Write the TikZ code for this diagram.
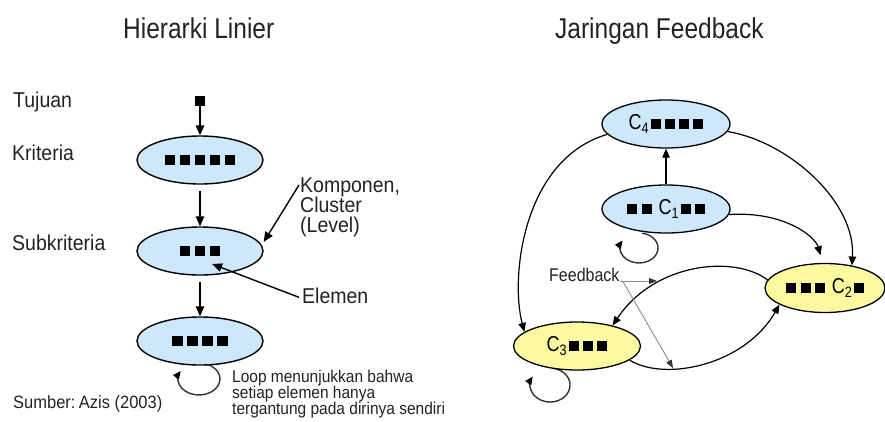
\documentclass[tikz,border=0pt]{standalone}
\usepackage{fontspec}
\setmainfont{Liberation Sans}
\usetikzlibrary{shapes.geometric,arrows.meta,calc}
\pgfdeclarelayer{background}
\pgfsetlayers{background,main}

\definecolor{clusterblue}{RGB}{204,232,250}
\definecolor{clusteryellow}{RGB}{252,249,160}
\definecolor{inkgray}{RGB}{35,35,35}

% vertically stretched text
\newcommand\vstretch[2][1.12]{\scalebox{1}[#1]{#2}}
% element squares (left hierarchy / right network)
\newcommand\sqL{\rule{10.5pt}{10.5pt}}
\newcommand\gL{\hspace{4.5pt}}
\newcommand\sqR{\rule[0.5pt]{10pt}{10pt}}
\newcommand\gR{\hspace{4.3pt}}

\begin{document}
\begin{tikzpicture}[x=1pt,y=1pt,
  every node/.style={inner sep=0pt, text=inkgray},
  title/.style={font=\fontsize{24.5}{29}\selectfont, anchor=base west},
  lbl/.style={font=\fontsize{19.5}{23}\selectfont, anchor=base west},
  note/.style={font=\fontsize{15.5}{18}\selectfont, anchor=base west},
  level/.style={ellipse, draw=black, line width=1.4pt, fill=clusterblue,
    minimum width=126pt, minimum height=48pt, text=black},
  cluster/.style={ellipse, draw=black, line width=1.3pt, minimum width=128pt,
    minimum height=48pt, font=\fontsize{18}{21}\selectfont, text=black},
  arr/.style={draw=black, line width=1.4pt, -{Triangle[length=10pt,width=8.5pt]}},
  carr/.style={draw=black, line width=1.2pt, -{Triangle[length=9pt,width=7.5pt]}},
  selfloop/.style={draw=black!80, line width=1.4pt, -{Triangle[length=8pt,width=7pt,color=black]}},
  fbarr/.style={draw=black!45, line width=0.9pt, -{Triangle[length=8pt,width=6pt,color=black!80]}},
]
\begin{pgfonlayer}{background}
\fill[white] (0,0) rectangle (885,-421);
\end{pgfonlayer}
\useasboundingbox (0,0) rectangle (885,-421);

% ---------- titles ----------
\node[title] (t1) at (123,-38) {\vstretch[1.17]{Hierarki Linier}};
\node[title] (t2) at (555,-38) {\vstretch[1.17]{Jaringan Feedback}};

% ---------- linear hierarchy ----------
\node[fill=black, minimum size=10pt] (goal) at (200,-101) {};
\node[level] (e1) at (200,-160) {\sqL\gL\sqL\gL\sqL\gL\sqL\gL\sqL};
\node[level] (e2) at (200,-251) {\sqL\gL\sqL\gL\sqL};
\node[level] (e3) at (200,-341) {\sqL\gL\sqL\gL\sqL\gL\sqL};

\node[lbl] (tuj)  at (13,-107) {\vstretch[1.1]{Tujuan}};
\node[lbl] (krit) at (12,-160) {\vstretch[1.1]{Kriteria}};
\node[lbl] (subk) at (12,-250) {\vstretch[1.1]{Subkriteria}};
\node[lbl] (komp) at (300,-192) {\vstretch[1.1]{\vtop{\baselineskip=18.6pt\lineskiplimit=-20pt
  \hbox{Komponen,}\hbox{Cluster}\hbox{(Level)}}}};
\node[lbl] (elem) at (302,-303) {\vstretch[1.1]{Elemen}};
\node[font=\fontsize{16.5}{20}\selectfont, anchor=base west] (src) at (13,-408)
  {\vstretch[1.08]{Sumber:\hspace{0.2em}Azis (2003)}};
\node[note] (loopnote) at (232,-382) {\vstretch[1.1]{\vtop{\baselineskip=14.6pt\lineskiplimit=-20pt
  \hbox{Loop menunjukkan bahwa}\hbox{setiap elemen hanya}\hbox{tergantung pada dirinya sendiri}}}};

\draw[arr] (goal.south) -- (e1.north);
\draw[arr, shorten <=6pt] (e1.south) -- (e2.north);
\draw[arr, shorten <=6pt] (e2.south) -- (e3.north);
\draw[arr] ([xshift=-1pt,yshift=7pt]komp.base west) -- ([yshift=9pt]e2.east);
\draw[arr] ([xshift=-3pt,yshift=-2pt]elem.west) -- ($(e2.center)+(12,-13)$);

% ---------- feedback network ----------
\node[cluster, fill=clusterblue] (c4) at (666,-124)
  {\vstretch[1.2]{C\textsubscript{4}}\hspace{1.5pt}\sqR\gR\sqR\gR\sqR\gR\sqR};
\node[cluster, fill=clusterblue] (c1) at (666,-209)
  {\sqR\gR\sqR\hspace{7pt}\vstretch[1.2]{C\textsubscript{1}}\hspace{1.5pt}\sqR\gR\sqR};
\node[cluster, fill=clusteryellow, minimum width=120pt, minimum height=49pt] (c2) at (825,-288)
  {\sqR\gR\sqR\gR\sqR\hspace{7pt}\vstretch[1.2]{C\textsubscript{2}}\hspace{1.5pt}\sqR};
\node[cluster, fill=clusteryellow, minimum width=127pt] (c3) at (577,-346)
  {\vstretch[1.2]{C\textsubscript{3}}\hspace{1.5pt}\sqR\gR\sqR\gR\sqR};

\draw[carr] (c1.north) -- (c4.south);
\draw[carr] (c4.190) .. controls (523,-159) and (510,-277) .. (c3.165);
\draw[carr] (c4.-7) .. controls (787,-141) and (856,-201) .. (c2.40);
\draw[carr, shorten >=8pt] (c1.-5) .. controls (783,-211) and (815,-236) .. (c2.95);
\draw[carr] (c2.172) .. controls (735,-255) and (655,-262) .. (c3.30);
\draw[carr] (c3.-15) .. controls (665,-382) and (745,-365) .. (c2.200);

% self loops, tucked under the ellipse outlines
\begin{pgfonlayer}{background}
\draw[selfloop] ($(e3.center)+(2.6,-22.2)$)
  arc[start angle=80, end angle=-210, x radius=21, y radius=16];
\draw[selfloop] ($(c1.center)+(-23.7,-24.2)$)
  arc[start angle=80, end angle=-210, x radius=19, y radius=15];
\draw[selfloop] ($(c3.center)+(-23.5,-22.3)$)
  arc[start angle=80, end angle=-210, x radius=20, y radius=17];
\end{pgfonlayer}

\node[font=\fontsize{16}{19}\selectfont, anchor=base west] (fb) at (549,-281)
  {\vstretch[1.15]{Feedback}};
\coordinate (fbh) at (657,-281);
\coordinate (fbd) at (673,-368);
\draw[fbarr] (fb.base east) -- (fbh);
\draw[fbarr] ([xshift=3pt]fb.base east) -- (fbd);
\end{tikzpicture}
\end{document}
